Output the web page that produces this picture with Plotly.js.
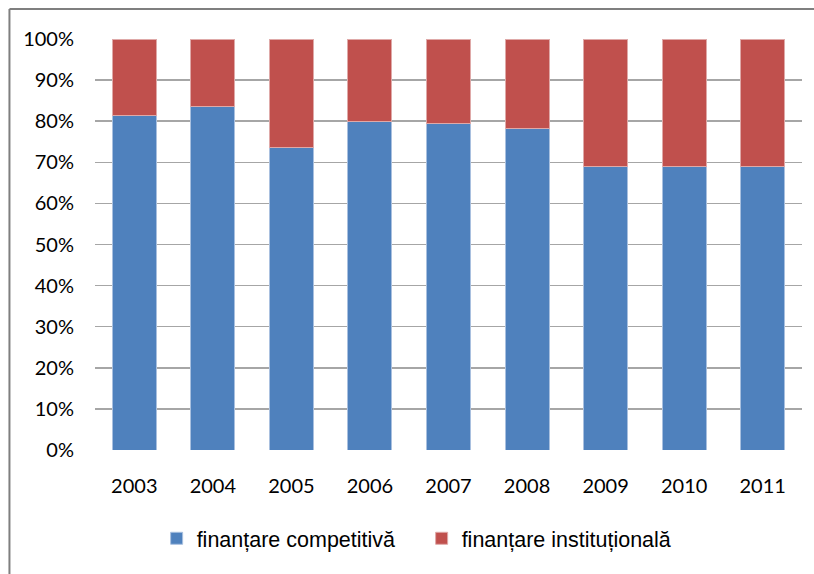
<!DOCTYPE html>
<html>
<head>
<meta charset="utf-8">
<script src="https://cdn.plot.ly/plotly-3.0.1.min.js"></script>
<style>
html,body{margin:0;padding:0;background:#fff;}
#chart{width:814px;height:574px;}
</style>
</head>
<body>
<div id="chart"></div>
<script>
const years = ['2003','2004','2005','2006','2007','2008','2009','2010','2011'];
const competitiva = [81.3, 83.5, 73.7, 80.0, 79.5, 78.3, 68.9, 68.9, 68.9];
const institutionala = [18.7, 16.5, 26.3, 20.0, 20.5, 21.7, 31.1, 31.1, 31.1];
const tickVals = [0,10,20,30,40,50,60,70,80,90,100];
const tickText = ['0%','10%','20%','30%','40%','50%','60%','70%','80%','90%','100%'];

const traces = [
  {type:'bar', x:years, y:competitiva, name:'finanțare competitivă',
   marker:{color:'#4F81BD', line:{color:'#a9c0df', width:1}}},
  {type:'bar', x:years, y:institutionala, name:'finanțare instituțională',
   marker:{color:'#C0504D', line:{color:'#dfa9a8', width:1}}}
];

const layout = {
  width:814, height:574,
  barmode:'stack', bargap:0.44,
  paper_bgcolor:'#fff', plot_bgcolor:'#fff',
  margin:{l:95, r:12, t:39, b:124},
  showlegend:true,
  legend:{orientation:'h', x:0.462, xanchor:'center', y:-0.165, yanchor:'top',
          font:{family:'Liberation Sans, Arial, sans-serif', size:21.5, color:'#000'},
          itemwidth:30, entrywidth:220, traceorder:'normal'},
  xaxis:{type:'category', showgrid:false, showline:false, ticks:'', ticklabelstandoff:22,
         tickfont:{family:'Lato, Carlito, sans-serif', size:20, color:'#000'}},
  yaxis:{range:[0,100], tickvals:tickVals, ticktext:tickText,
         showgrid:true, gridcolor:'#a6a6a6', gridwidth:1.5, zeroline:false,
         showline:false, ticks:'', ticklabelstandoff:20,
         tickfont:{family:'Lato, Carlito, sans-serif', size:20, color:'#000'}},
  shapes:[
    {type:'line', xref:'paper', yref:'paper', x0:-0.121, x1:1.1, y0:1.0731, y1:1.0731,
     line:{color:'#7f7f7f', width:2}},
    {type:'line', xref:'paper', yref:'paper', x0:-0.121, x1:-0.121, y0:1.0731, y1:-0.4,
     line:{color:'#7f7f7f', width:2}}
  ]
};

Plotly.newPlot('chart', traces, layout, {displayModeBar:false, staticPlot:true});
</script>
</body>
</html>
